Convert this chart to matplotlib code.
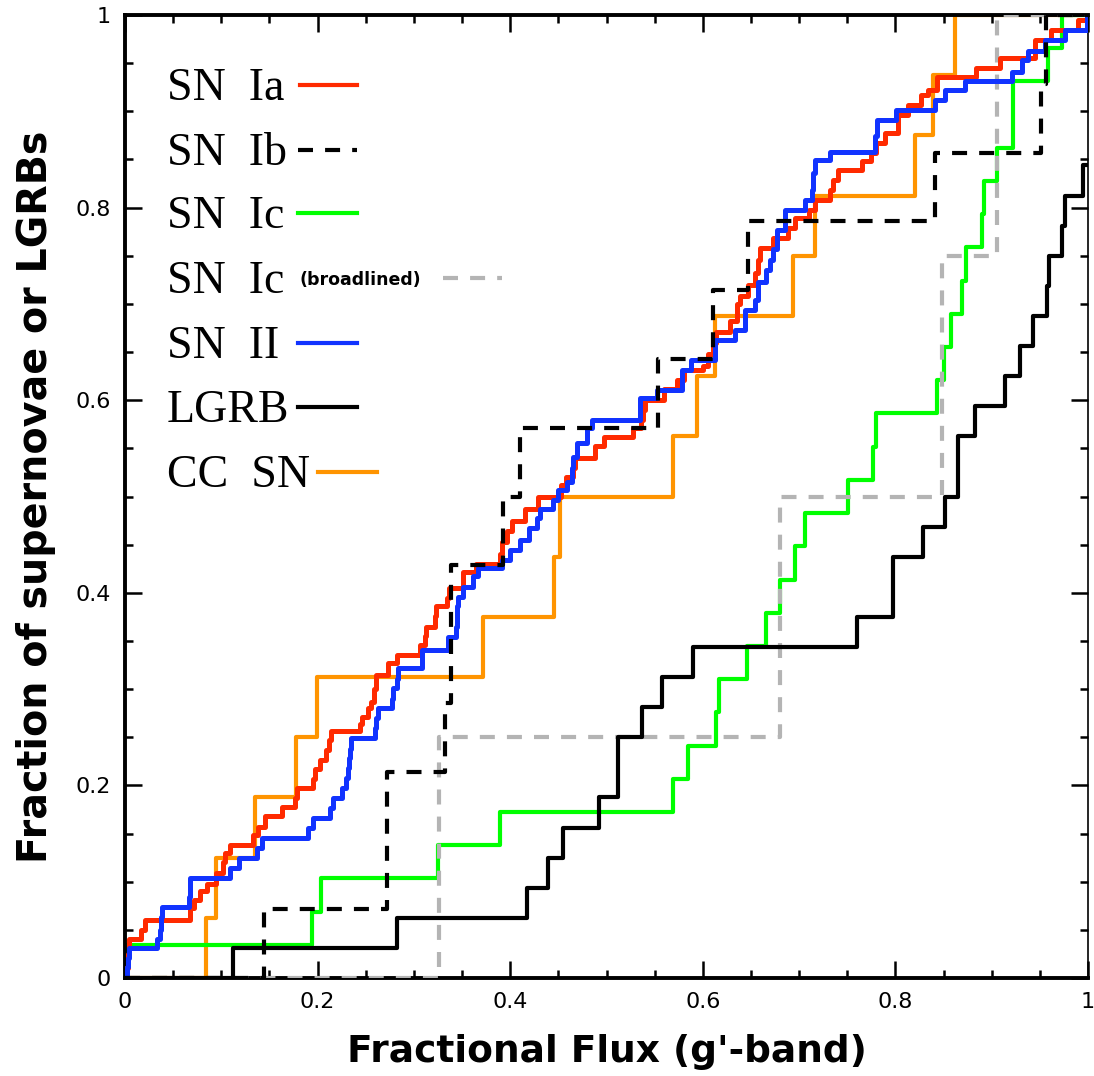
import numpy as np
import matplotlib.pyplot as plt
from matplotlib.ticker import MultipleLocator

# --- data (fractional flux, cumulative fraction) ---
# SN Ia and SN II: many objects, kept as step corners (x where the fraction jumps, new fraction)
ia_x = [0.001, 0.003, 0.004, 0.017, 0.021, 0.0675, 0.072, 0.078, 0.085, 0.095,
        0.102, 0.104, 0.109, 0.133, 0.138, 0.145, 0.163, 0.1765, 0.179, 0.195,
        0.197, 0.2025, 0.209, 0.212, 0.214, 0.244, 0.246, 0.252, 0.255, 0.259,
        0.261, 0.273, 0.282, 0.306, 0.3115, 0.313, 0.322, 0.323, 0.334, 0.336,
        0.351, 0.365, 0.389, 0.391, 0.397, 0.402, 0.415, 0.429, 0.453, 0.458,
        0.465, 0.467, 0.488, 0.497, 0.527, 0.536, 0.538, 0.540, 0.560, 0.573,
        0.580, 0.600, 0.605, 0.611, 0.614, 0.628, 0.635, 0.639, 0.647, 0.654,
        0.657, 0.659, 0.673, 0.688, 0.696, 0.710, 0.7165, 0.732, 0.735, 0.740,
        0.765, 0.775, 0.780, 0.789, 0.803, 0.813, 0.827, 0.834, 0.843, 0.884,
        0.909, 0.945, 0.962, 0.990]
ia_y = [0.010, 0.025, 0.040, 0.050, 0.060, 0.073, 0.081, 0.090, 0.098, 0.109,
        0.120, 0.130, 0.138, 0.148, 0.157, 0.168, 0.178, 0.187, 0.197, 0.207,
        0.217, 0.226, 0.237, 0.247, 0.256, 0.264, 0.271, 0.280, 0.287, 0.300,
        0.315, 0.327, 0.335, 0.346, 0.355, 0.365, 0.376, 0.386, 0.395, 0.405,
        0.422, 0.430, 0.440, 0.453, 0.464, 0.475, 0.487, 0.500, 0.512, 0.520,
        0.530, 0.540, 0.552, 0.562, 0.571, 0.579, 0.590, 0.600, 0.612, 0.621,
        0.631, 0.636, 0.648, 0.659, 0.671, 0.682, 0.700, 0.708, 0.720, 0.732,
        0.746, 0.758, 0.768, 0.779, 0.789, 0.798, 0.808, 0.818, 0.829, 0.839,
        0.848, 0.857, 0.867, 0.877, 0.896, 0.907, 0.917, 0.922, 0.936, 0.945,
        0.955, 0.974, 0.984, 0.995]

ii_x = [0.002, 0.003, 0.004, 0.033, 0.036, 0.037, 0.038, 0.066, 0.067, 0.068,
        0.109, 0.118, 0.137, 0.142, 0.190, 0.195, 0.213, 0.216, 0.225, 0.230,
        0.232, 0.233, 0.234, 0.235, 0.260, 0.261, 0.263, 0.277, 0.278, 0.282,
        0.283, 0.308, 0.335, 0.344, 0.3445, 0.345, 0.3455, 0.351, 0.361, 0.367,
        0.391, 0.400, 0.410, 0.420, 0.4275, 0.431, 0.444, 0.450, 0.4587, 0.464,
        0.465, 0.469, 0.4794, 0.4846, 0.535, 0.552, 0.578, 0.588, 0.6127, 0.633,
        0.644, 0.654, 0.657, 0.666, 0.670, 0.673, 0.677, 0.685, 0.706, 0.713,
        0.714, 0.716, 0.732, 0.779, 0.781, 0.801, 0.841, 0.852, 0.872, 0.921,
        0.931, 0.938, 0.955, 0.976, 0.999]
ii_y = [0.011, 0.021, 0.031, 0.040, 0.050, 0.063, 0.074, 0.084, 0.094, 0.104,
        0.114, 0.125, 0.135, 0.145, 0.156, 0.166, 0.177, 0.187, 0.197, 0.208,
        0.218, 0.228, 0.238, 0.249, 0.260, 0.270, 0.280, 0.290, 0.301, 0.311,
        0.322, 0.341, 0.354, 0.365, 0.375, 0.386, 0.396, 0.406, 0.417, 0.426,
        0.434, 0.444, 0.455, 0.467, 0.478, 0.487, 0.496, 0.507, 0.515, 0.530,
        0.541, 0.556, 0.571, 0.579, 0.602, 0.611, 0.631, 0.642, 0.663, 0.673,
        0.694, 0.704, 0.723, 0.735, 0.746, 0.757, 0.777, 0.797, 0.808, 0.818,
        0.836, 0.849, 0.858, 0.874, 0.891, 0.901, 0.912, 0.922, 0.931, 0.941,
        0.953, 0.963, 0.974, 0.984, 1.000]

# smaller samples: one fractional flux value per object
ib_flux = [0.144, 0.272, 0.272, 0.332, 0.339, 0.339, 0.393, 0.410, 0.553, 0.611,
           0.647, 0.841, 0.951, 0.956]
ic_flux = [0.0, 0.194, 0.204, 0.325, 0.389, 0.569, 0.585, 0.614, 0.617, 0.646,
           0.666, 0.680, 0.696, 0.706, 0.751, 0.777, 0.780, 0.843, 0.850, 0.858,
           0.869, 0.873, 0.890, 0.892, 0.906, 0.922, 0.922, 0.958, 0.973]
icbl_flux = [0.326, 0.680, 0.848, 0.905]
lgrb_flux = [0.1125, 0.282, 0.417, 0.439, 0.455, 0.492, 0.512, 0.512, 0.537, 0.558,
             0.590, 0.760, 0.797, 0.797, 0.829, 0.852, 0.865, 0.865, 0.883, 0.914,
             0.929, 0.943, 0.957, 0.960, 0.973, 0.976, 0.995]
lgrb_total = 32  # the rest sit off the right edge
cc_flux = [0.084, 0.094, 0.135, 0.178, 0.1995, 0.372, 0.445, 0.452, 0.569, 0.594,
           0.613, 0.694, 0.717, 0.820, 0.839, 0.862]

c_ia = '#ff2a00'
c_ib = 'black'
c_ic = '#00ff00'
c_icbl = '#b4b4b4'
c_ii = '#1133ff'
c_lgrb = 'black'
c_cc = '#ff9400'
dash = (3.6, 2.9)


def ecdf(values, total=None):
    v = np.sort(values)
    n = total if total else len(v)
    xs = np.concatenate([[0.0], v, [1.0]])
    ys = np.concatenate([[0.0], np.arange(1, len(v) + 1) / n, [len(v) / n]])
    return xs, ys


def corners(x, y):
    return np.concatenate([[0.0], x, [1.0]]), np.concatenate([[0.0], y, [y[-1]]])


def tick_fmt(v, pos):
    if abs(v) < 1e-9:
        return '0'
    if abs(v - 1) < 1e-9:
        return '1'
    return f'{v:.1f}'


fig = plt.figure(figsize=(10.94, 10.76), dpi=100)
ax = fig.add_axes([125 / 1094, 98 / 1076, 963 / 1094, 963 / 1076])

x, y = ecdf(cc_flux)
ax.plot(x, y, drawstyle='steps-post', color=c_cc, lw=3.0, zorder=1)
x, y = ecdf(ic_flux)
ax.plot(x, y, drawstyle='steps-post', color=c_ic, lw=3.0, zorder=2)
x, y = ecdf(icbl_flux)
ax.plot(x, y, drawstyle='steps-post', color=c_icbl, lw=3.0, dashes=dash, zorder=3)
x, y = corners(ia_x, ia_y)
ax.plot(x, y, drawstyle='steps-post', color=c_ia, lw=3.6, zorder=4)
x, y = corners(ii_x, ii_y)
ax.plot(x, y, drawstyle='steps-post', color=c_ii, lw=3.6, zorder=5)
x, y = ecdf(lgrb_flux, lgrb_total)
ax.plot(x, y, drawstyle='steps-post', color=c_lgrb, lw=3.0, zorder=6)
x, y = ecdf(ib_flux)
ax.plot(x, y, drawstyle='steps-post', color=c_ib, lw=3.0, dashes=dash, zorder=7)

ax.set_xlim(0, 1)
ax.set_ylim(0, 1)
ax.xaxis.set_major_locator(MultipleLocator(0.2))
ax.yaxis.set_major_locator(MultipleLocator(0.2))
ax.xaxis.set_minor_locator(MultipleLocator(0.05))
ax.yaxis.set_minor_locator(MultipleLocator(0.05))
ax.xaxis.set_major_formatter(tick_fmt)
ax.yaxis.set_major_formatter(tick_fmt)
ax.tick_params(which='both', direction='in', top=True, right=True, width=1.8,
               labelsize=16)
ax.tick_params(which='major', length=12, pad=10)
ax.tick_params(which='minor', length=6)
for s in ['left', 'bottom', 'top']:
    ax.spines[s].set_linewidth(2.8)
ax.spines['right'].set_linewidth(1.2)

ax.set_xlabel("Fractional Flux (g'-band)", fontsize=27, fontweight='bold', labelpad=16)
ax.set_ylabel('Fraction of supernovae or LGRBs', fontsize=28.5, fontweight='bold',
              labelpad=14)

# legend drawn by hand, as in the original
labels = ['SN  Ia', 'SN  Ib', 'SN  Ic', 'SN  Ic', 'SN  II', 'LGRB', 'CC  SN']
colors = [c_ia, c_ib, c_ic, c_icbl, c_ii, c_lgrb, c_cc]
dashed = [False, True, False, True, False, False, False]
base_y = [0.9117, 0.8442, 0.7788, 0.7113, 0.6438, 0.5774, 0.5099]
line_y = [0.9273, 0.8598, 0.7944, 0.7269, 0.6594, 0.5930, 0.5255]
line_x = [(0.182, 0.241), (0.180, 0.241), (0.180, 0.241), (0.330, 0.392),
          (0.180, 0.241), (0.180, 0.241), (0.200, 0.262)]
for lab, col, dsh, by, ly, (x0, x1) in zip(labels, colors, dashed, base_y, line_y, line_x):
    ax.text(0.0436, by, lab, fontsize=33, family='Liberation Serif', va='baseline',
            ha='left')
    kw = dict(dashes=dash) if dsh else {}
    ax.plot([x0, x1], [ly, ly], color=col, lw=3.0, clip_on=False, **kw)
ax.text(0.1817, 0.7196, '(broadlined)', fontsize=12.5, fontweight='bold',
        va='baseline', ha='left')

fig.savefig('out.png', dpi=100)
